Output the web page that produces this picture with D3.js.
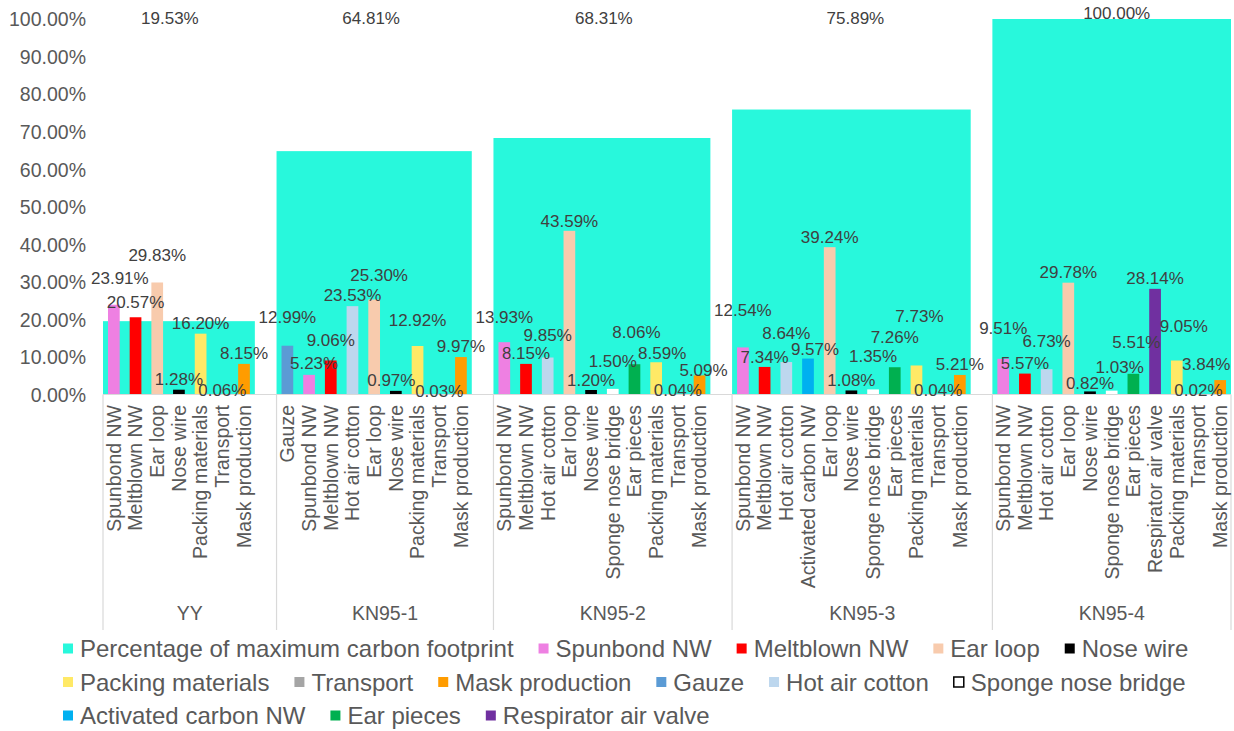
<!DOCTYPE html>
<html>
<head>
<meta charset="utf-8">
<script src="https://cdn.jsdelivr.net/npm/d3@7/dist/d3.min.js"></script>
<style>
  html, body { margin: 0; padding: 0; background: #ffffff; }
  svg { display: block; font-family: "Liberation Sans", Arial, sans-serif; }
</style>
</head>
<body>
<svg id="chart" width="1234" height="731"></svg>
<script>
// ---- data ----
const groups = ["YY", "KN95-1", "KN95-2", "KN95-3", "KN95-4"];
const maxFootprintPct = [19.53, 64.81, 68.31, 75.89, 100.00];

const yyItems = ["Spunbond NW", "Meltblown NW", "Ear loop", "Nose wire", "Packing materials", "Transport", "Mask production"];
const yyValues = [23.91, 20.57, 29.83, 1.28, 16.20, 0.06, 8.15];

const kn1Items = ["Gauze", "Spunbond NW", "Meltblown NW", "Hot air cotton", "Ear loop", "Nose wire", "Packing materials", "Transport", "Mask production"];
const kn1Values = [12.99, 5.23, 9.06, 23.53, 25.30, 0.97, 12.92, 0.03, 9.97];

const kn2Items = ["Spunbond NW", "Meltblown NW", "Hot air cotton", "Ear loop", "Nose wire", "Sponge nose bridge", "Ear pieces", "Packing materials", "Transport", "Mask production"];
const kn2Values = [13.93, 8.15, 9.85, 43.59, 1.20, 1.50, 8.06, 8.59, 0.04, 5.09];

const kn3Items = ["Spunbond NW", "Meltblown NW", "Hot air cotton", "Activated carbon NW", "Ear loop", "Nose wire", "Sponge nose bridge", "Ear pieces", "Packing materials", "Transport", "Mask production"];
const kn3Values = [12.54, 7.34, 8.64, 9.57, 39.24, 1.08, 1.35, 7.26, 7.73, 0.04, 5.21];

const kn4Items = ["Spunbond NW", "Meltblown NW", "Hot air cotton", "Ear loop", "Nose wire", "Sponge nose bridge", "Ear pieces", "Respirator air valve", "Packing materials", "Transport", "Mask production"];
const kn4Values = [9.51, 5.57, 6.73, 29.78, 0.82, 1.03, 5.51, 28.14, 9.05, 0.02, 3.84];

const yTicks = [0, 10, 20, 30, 40, 50, 60, 70, 80, 90, 100];

const seriesNames = ["Percentage of maximum carbon footprint", "Spunbond NW", "Meltblown NW", "Ear loop", "Nose wire",
  "Packing materials", "Transport", "Mask production", "Gauze", "Hot air cotton", "Sponge nose bridge",
  "Activated carbon NW", "Ear pieces", "Respirator air valve"];
const seriesColors = ["#28F8DC", "#EE80E2", "#FF0000", "#F8CBAD", "#000000",
  "#FFE966", "#A5A5A5", "#FF9C00", "#5B9BD5", "#BDD7EE", "#FFFFFF",
  "#00B0F0", "#00B050", "#7030A0"];
const legendRows = [5, 6, 3];

// ---- label placement (hand-tuned so overlapping labels stay legible) ----
// lift: distance of the label centre above the bar top; shift: horizontal nudge
const labelLift = [
  [26.5, 15, 27, 11, 10.5, 4, 11],
  [29, 11.5, 20.5, 11, 24.5, 11, 26, 3.7, 11.3],
  [25.5, 11, 22.5, 10, 10, 28, 32.5, 9.5, 4.3, 5.5],
  [37, 10, 29, 10, 10, 10, 33, 30.5, 49, 4.3, 10.5],
  [30.5, 11, 28.5, 10.4, 8.7, 24, 31.5, 10.5, 34, 4.4, 16]
];
const labelShift = [
  [6, 0, 0, 0, 0, 0, 0],
  [0, 5, 0, 0, 5, -4.5, 0, 0, 0],
  [0, 0, 0, 0, 0, 0, 2, 6, 0, 4],
  [0, 0, 0, 7, 0, 0, 0, 0, 3, 0, 0],
  [0, 0, 0, 0, 0, 8, 3, 0, 7, 0, -14]
];
const totalLabelShift = [-9, -3, 2, 4, 5];

const groupItems = [yyItems, kn1Items, kn2Items, kn3Items, kn4Items];
const groupValues = [yyValues, kn1Values, kn2Values, kn3Values, kn4Values];

// ---- build slot list: each group's items, plus an empty spacer slot between groups ----
const slots = [];
groups.forEach((g, gi) => {
  groupItems[gi].forEach(item => slots.push(g + "|" + item));
  if (gi < groups.length - 1) slots.push(g + "|__spacer");
});

const colorOf = d3.scaleOrdinal().domain(seriesNames).range(seriesColors);

const svg = d3.select("#chart");
const plot = { left: 103, right: 1231, top: 19, bottom: 394.5 };

const x = d3.scaleBand().domain(slots).range([plot.left, plot.right]).paddingInner(0).paddingOuter(0);
const y = d3.scaleLinear().domain([0, 100]).range([plot.bottom, plot.top]);
const bw = x.bandwidth();
const barFrac = 0.54;

const fmt = v => v.toFixed(2) + "%";

// ---- background bars: share of the maximum footprint, spanning each group's items ----
const bgData = groups.map((g, gi) => {
  const items = groupItems[gi];
  const x0 = x(g + "|" + items[0]);
  const x1 = x(g + "|" + items[items.length - 1]) + bw;
  return { g, gi, v: maxFootprintPct[gi], x0, x1 };
});

svg.append("g").selectAll("rect").data(bgData).join("rect")
  .attr("x", d => d.x0)
  .attr("width", d => d.x1 - d.x0)
  .attr("y", d => y(d.v))
  .attr("height", d => y(0) - y(d.v))
  .attr("fill", colorOf(seriesNames[0]));

// ---- component bars ----
const barData = [];
groups.forEach((g, gi) => {
  groupItems[gi].forEach((item, i) => {
    barData.push({ g, gi, i, item, v: groupValues[gi][i], key: g + "|" + item });
  });
});

svg.append("g").selectAll("rect").data(barData).join("rect")
  .attr("x", d => x(d.key) + bw * (1 - barFrac) / 2)
  .attr("width", bw * barFrac)
  .attr("y", d => y(d.v))
  .attr("height", d => y(0) - y(d.v))
  .attr("fill", d => colorOf(d.item));

// ---- axis line and group separators ----
const axisColor = "#D9D9D9";
svg.append("line")
  .attr("x1", plot.left).attr("x2", plot.right)
  .attr("y1", y(0)).attr("y2", y(0))
  .attr("stroke", axisColor).attr("stroke-width", 1.2);

const sepXs = groups.map((g, gi) => x(g + "|" + groupItems[gi][0])).concat([plot.right]);
svg.append("g").selectAll("line").data(sepXs).join("line")
  .attr("x1", d => d).attr("x2", d => d)
  .attr("y1", y(0)).attr("y2", 630)
  .attr("stroke", axisColor).attr("stroke-width", 1.2);

// ---- y axis ticks (no axis line) ----
const yAxis = d3.axisLeft(y).tickValues(yTicks).tickFormat(d => d.toFixed(2) + "%").tickSize(0).tickPadding(0);
const yG = svg.append("g").attr("transform", "translate(86,0)").call(yAxis);
yG.select(".domain").remove();
yG.selectAll("text")
  .attr("font-size", "19.5px")
  .attr("fill", "#595959")
  .attr("font-family", "\"Liberation Sans\", Arial, sans-serif")
  .attr("dy", "0.35em");

// ---- category labels (rotated) ----
svg.append("g").selectAll("text").data(barData).join("text")
  .attr("transform", d => `translate(${x(d.key) + bw / 2},405) rotate(-90)`)
  .attr("text-anchor", "end")
  .attr("dy", "0.35em")
  .attr("font-size", "19.5px")
  .attr("fill", "#595959")
  .text(d => d.item);

// ---- group labels ----
svg.append("g").selectAll("text").data(groups).join("text")
  .attr("x", (g, gi) => (sepXs[gi] + sepXs[gi + 1]) / 2)
  .attr("y", 613)
  .attr("dy", "0.35em")
  .attr("text-anchor", "middle")
  .attr("font-size", "19.5px")
  .attr("fill", "#595959")
  .text(g => g);

// ---- value labels ----
svg.append("g").selectAll("text").data(barData).join("text")
  .attr("x", d => x(d.key) + bw / 2 + labelShift[d.gi][d.i])
  .attr("y", d => y(d.v) - labelLift[d.gi][d.i])
  .attr("dy", "0.35em")
  .attr("text-anchor", "middle")
  .attr("font-size", "17px")
  .attr("fill", "#404040")
  .text(d => fmt(d.v));

svg.append("g").selectAll("text").data(bgData).join("text")
  .attr("x", d => (d.x0 + d.x1) / 2 + totalLabelShift[d.gi])
  .attr("y", d => Math.min(18, y(d.v) - 6))
  .attr("dy", "0.35em")
  .attr("text-anchor", "middle")
  .attr("font-size", "17px")
  .attr("fill", "#404040")
  .text(d => fmt(d.v));

// ---- legend ----
const legend = svg.append("g");
const legendFont = 24;
const rowY = [649, 682.5, 716];
let idx = 0;
legendRows.forEach((count, r) => {
  let cx = 63;
  for (let k = 0; k < count; k++, idx++) {
    const name = seriesNames[idx];
    const item = legend.append("g");
    item.append("rect")
      .attr("x", cx).attr("y", rowY[r] - 5.5)
      .attr("width", 10).attr("height", 10)
      .attr("fill", colorOf(name))
      .attr("stroke", name === "Sponge nose bridge" ? "#000000" : "none")
      .attr("stroke-width", 1.5);
    const t = item.append("text")
      .attr("x", cx + 17).attr("y", rowY[r])
      .attr("dy", "0.35em")
      .attr("font-size", legendFont + "px")
      .attr("fill", "#595959")
      .text(name);
    cx += 17 + t.node().getComputedTextLength() + 25;
  }
});
</script>
</body>
</html>
